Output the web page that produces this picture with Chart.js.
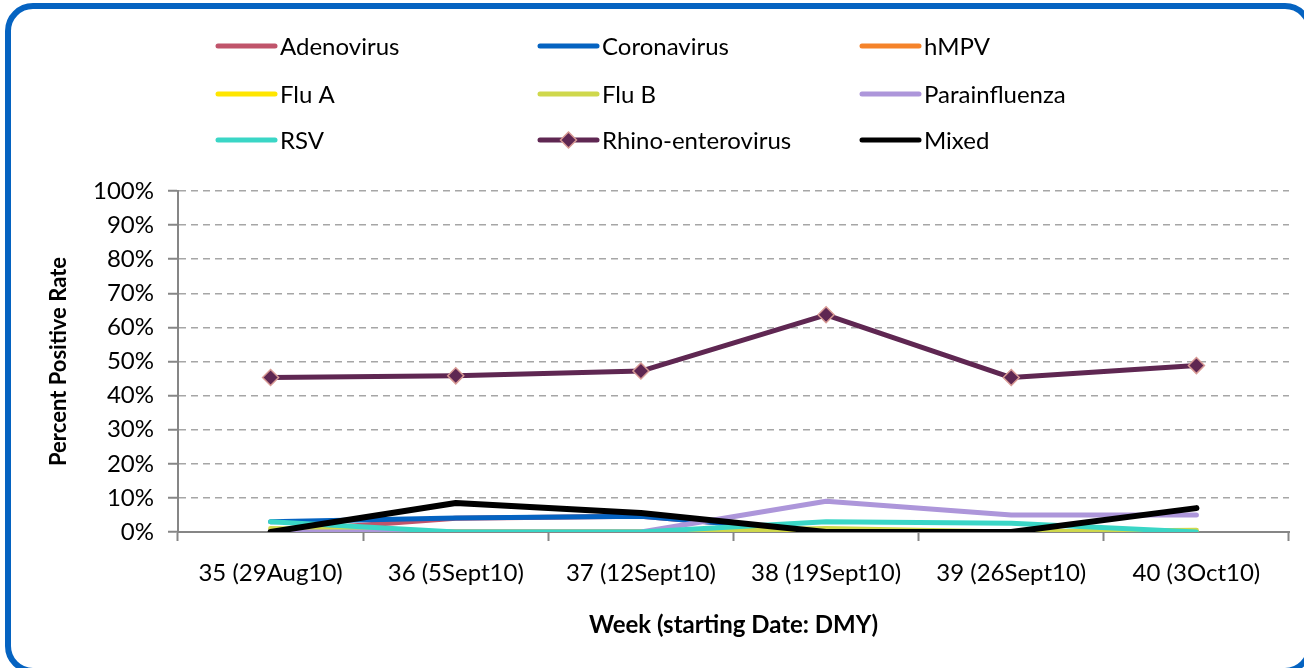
<!DOCTYPE html>
<html>
<head>
<meta charset="utf-8">
<script src="https://cdn.jsdelivr.net/npm/chart.js@4"></script>
<style>
    html, body { margin: 0; padding: 0; background: #fff; overflow: hidden; }
    #wrap { position: relative; width: 1304px; height: 668px; overflow: hidden; }
    #frame {
        position: absolute; left: 5px; top: 3px; width: 1308px; height: 671px;
        box-sizing: border-box; border: 6px solid #0563c1; border-radius: 28px;
        pointer-events: none;
    }
    canvas { position: absolute; left: 0; top: 0; }
</style>
</head>
<body>
<div id="wrap">
    <canvas id="virusChart" width="1304" height="668"></canvas>
    <div id="frame"></div>
</div>
<script>
const weeks = ['35 (29Aug10)', '36 (5Sept10)', '37 (12Sept10)', '38 (19Sept10)', '39 (26Sept10)', '40 (3Oct10)'];
const adenovirus = [0, 4, 4.6, 0, 0, 0];
const coronavirus = [3, 4.1, 4.6, 0, 0, 0];
const hmpv = [0, 0, 0, 0, 0, 0];
const fluA = [0, 0, 0, 0, 0, 0];
const fluB = [1, 0, 0, 1, 0, 0.5];
const parainfluenza = [0, 0, 0, 9, 5, 5];
const rsv = [3, 0, 0, 3, 2.6, 0];
const rhino = [45.3, 45.8, 47.2, 63.7, 45.3, 48.8];
const mixed = [0, 8.5, 5.6, 0, 0, 7];
const yTicks = [0, 10, 20, 30, 40, 50, 60, 70, 80, 90, 100];

const FONT = 'Lato, "Open Sans", sans-serif';

function series(label, data, color, order) {
    return {
        label: label,
        data: data,
        borderColor: color,
        backgroundColor: color,
        borderWidth: 5,
        borderCapStyle: 'round',
        borderJoinStyle: 'round',
        pointRadius: 0,
        pointHoverRadius: 0,
        tension: 0,
        fill: false,
        order: order
    };
}

const datasets = [
    series('Adenovirus', adenovirus, '#c0546b', 9),
    series('Coronavirus', coronavirus, '#0563c1', 8),
    series('hMPV', hmpv, '#f5832a', 7),
    series('Flu A', fluA, '#ffe600', 6),
    series('Flu B', fluB, '#cfd84c', 5),
    series('Parainfluenza', parainfluenza, '#ad96da', 4),
    series('RSV', rsv, '#3ad6c6', 3),
    Object.assign(series('Rhino-enterovirus', rhino, '#5f2752', 2), {
        pointStyle: 'rectRot',
        pointRadius: 8,
        pointBackgroundColor: '#5f2752',
        pointBorderColor: '#d89a94',
        pointBorderWidth: 1.5
    }),
    Object.assign(series('Mixed', mixed, '#000000', 1), { borderWidth: 6 })
];

// three-column legend like the original sheet
const gridLegend = {
    id: 'gridLegend',
    afterDraw(chart) {
        const ctx = chart.ctx;
        const colX = [218, 540, 862];
        const rowY = [46, 94, 140];
        ctx.save();
        ctx.font = '24px ' + FONT;
        ctx.textBaseline = 'middle';
        ctx.fillStyle = '#000';
        chart.data.datasets.forEach(function (ds, i) {
            const x = colX[i % 3];
            const y = rowY[Math.floor(i / 3)];
            ctx.beginPath();
            ctx.lineWidth = 5;
            ctx.lineCap = 'round';
            ctx.strokeStyle = ds.borderColor;
            ctx.moveTo(x, y);
            ctx.lineTo(x + 57, y);
            ctx.stroke();
            if (ds.pointStyle === 'rectRot') {
                ctx.beginPath();
                ctx.moveTo(x + 28.5, y - 8);
                ctx.lineTo(x + 36.5, y);
                ctx.lineTo(x + 28.5, y + 8);
                ctx.lineTo(x + 20.5, y);
                ctx.closePath();
                ctx.fillStyle = ds.pointBackgroundColor;
                ctx.fill();
                ctx.lineWidth = 1.5;
                ctx.strokeStyle = ds.pointBorderColor;
                ctx.stroke();
                ctx.fillStyle = '#000';
            }
            ctx.fillText(ds.label, x + 62, y + 1);
        });
        ctx.restore();
    }
};

const ctx = document.getElementById('virusChart').getContext('2d');

new Chart(ctx, {
    type: 'line',
    data: { labels: weeks, datasets: datasets },
    options: {
        responsive: false,
        animation: false,
        layout: { padding: { left: 0, top: 191, right: 15, bottom: 0 } },
        plugins: {
            legend: { display: false },
            tooltip: { enabled: false }
        },
        scales: {
            x: {
                offset: true,
                afterFit: function (scale) { scale.height = 136; },
                grid: {
                    offset: true,
                    drawOnChartArea: false,
                    drawTicks: true,
                    tickLength: 9,
                    tickColor: '#868686',
                    tickWidth: 2
                },
                border: { color: '#868686', width: 2 },
                ticks: {
                    color: '#000',
                    font: { family: FONT, size: 24 },
                    padding: 18,
                    maxRotation: 0,
                    autoSkip: false
                },
                title: {
                    display: true,
                    text: 'Week (starting Date: DMY)',
                    color: '#000',
                    font: { family: FONT, size: 24, weight: 'bold' },
                    padding: { top: 0, bottom: 28 }
                }
            },
            y: {
                min: 0,
                max: 100,
                afterFit: function (scale) { scale.width = 178; },
                afterBuildTicks: function (scale) {
                    scale.ticks = yTicks.map(function (v) { return { value: v }; });
                },
                grid: {
                    color: '#a6a6a6',
                    lineWidth: 1.5,
                    drawTicks: true,
                    tickLength: 10,
                    tickColor: '#868686',
                    tickWidth: 2
                },
                border: { color: '#868686', width: 2, dash: [7, 5] },
                ticks: {
                    color: '#000',
                    font: { family: FONT, size: 24 },
                    padding: 14,
                    callback: function (v) { return v + '%'; }
                },
                title: {
                    display: true,
                    text: 'Percent Positive Rate',
                    color: '#000',
                    font: { family: FONT, size: 22, weight: 'bold' },
                    padding: { top: 46, bottom: 0 }
                }
            }
        }
    },
    plugins: [gridLegend]
});
</script>
</body>
</html>
